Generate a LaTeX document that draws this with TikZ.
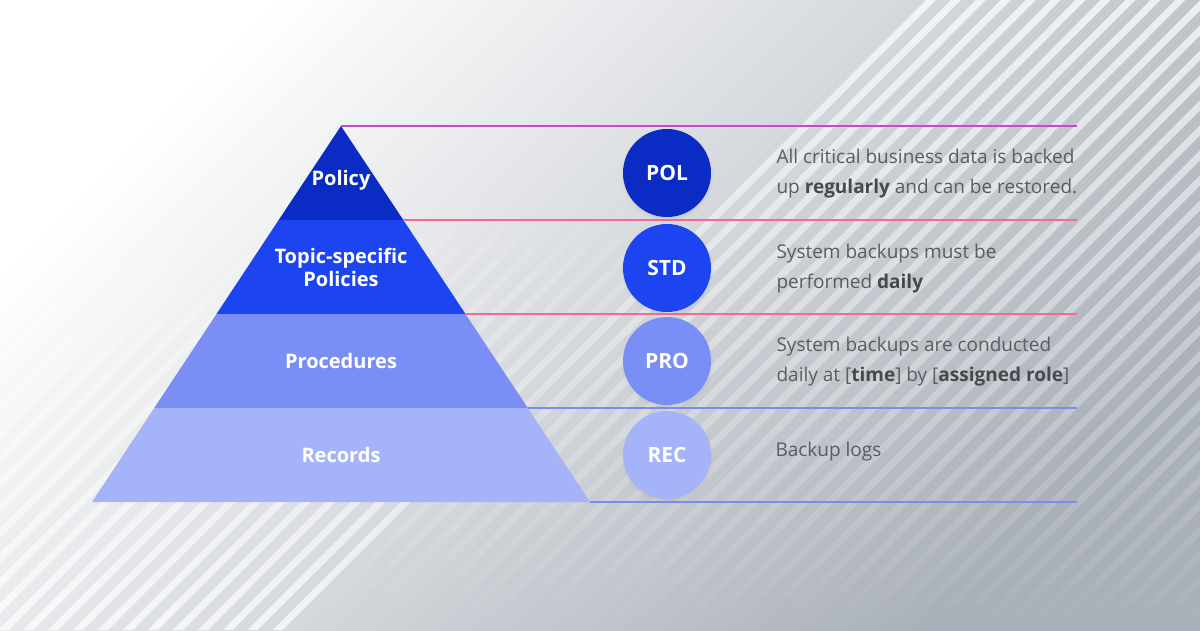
\documentclass[tikz,border=0pt]{standalone}
\usepackage{fontspec}
\setmainfont{Open Sans}
\usetikzlibrary{fadings,shadows}
\definecolor{cA}{HTML}{0A2BC4}
\definecolor{cB}{HTML}{1C44F0}
\definecolor{cC}{HTML}{7A8FF5}
\definecolor{cD}{HTML}{A5B3F8}
\definecolor{txt}{HTML}{5A5C60}
\definecolor{txtb}{HTML}{46484C}
\definecolor{lnA}{HTML}{C548D6}
\definecolor{lnB}{HTML}{EE6E93}
\definecolor{lnC}{HTML}{7B8DE8}
\definecolor{bgMid}{HTML}{EAEBEE}
\definecolor{bgEnd}{HTML}{AAB0B9}
\tikzfading[name=fadeA, top color=transparent!100, bottom color=transparent!0]
\tikzfading[name=fadeB, top color=transparent!0, bottom color=transparent!100]
\begin{document}
\begin{tikzpicture}[x=1pt,y=-1pt,
  lvl/.style={text=white, font=\fontsize{20}{23}\selectfont\bfseries, align=center},
  badge/.style={circle, minimum size=88pt, inner sep=0pt, text=white,
    font=\fontsize{21}{24}\selectfont\bfseries,
    circular drop shadow={shadow xshift=0pt, shadow yshift=-2pt, opacity=0.18, shadow scale=1.06}},
  desc/.style={anchor=west, align=left, text=txt, font=\fontsize{19}{30}\selectfont},
  sep/.style={line width=1.4pt}]
\useasboundingbox (0,0) rectangle (1200,630);
% background
\shade[left color=white, middle color=bgMid, right color=bgEnd, shading angle=45] (0,0) rectangle (1200,630);
% stripes, lower left group
\begin{scope}
\clip (0,0) -- (918,0) -- (288,630) -- (0,630) -- cycle;
\fill[white, opacity=0.8, path fading=fadeA]
  \foreach \s in {5,30,...,905} { (\s-180,180) -- (\s-680,680) -- (\s-670,680) -- (\s-170,180) -- cycle };
\end{scope}
% stripes, upper right group
\begin{scope}
\clip (918,0) -- (1200,0) -- (1200,630) -- (288,630) -- cycle;
\fill[white, opacity=1, path fading=fadeB]
  \foreach \s in {930,955,...,1880} { (\s+250,-250) -- (\s-630,630) -- (\s-620,630) -- (\s+260,-250) -- cycle };
\end{scope}
% pyramid coordinates
\coordinate (apex) at (341,126);
\coordinate (l1L) at (278.7,220); \coordinate (l1R) at (403.3,220);
\coordinate (l2L) at (216.5,314); \coordinate (l2R) at (465.5,314);
\coordinate (l3L) at (154.2,408); \coordinate (l3R) at (527.8,408);
\coordinate (l4L) at (92,502);    \coordinate (l4R) at (590,502);
\coordinate (e0) at (1077,126);
\coordinate (e1) at (1077,220);
\coordinate (e2) at (1077,314);
\coordinate (e3) at (1077,408);
\coordinate (e4) at (1077,502);
\fill[cA] (apex) -- (l1R) -- (l1L) -- cycle;
\fill[cB] (l1L) -- (l1R) -- (l2R) -- (l2L) -- cycle;
\fill[cC] (l2L) -- (l2R) -- (l3R) -- (l3L) -- cycle;
\fill[cD] (l3L) -- (l3R) -- (l4R) -- (l4L) -- cycle;
% separator lines
\draw[sep, lnA] (apex) -- (e0);
\draw[sep, lnB] (l1R) -- (e1);
\draw[sep, lnB] (l2R) -- (e2);
\draw[sep, lnC] (l3R) -- (e3);
\draw[sep, lnC, line width=2pt] (l4R) -- (e4);
% pyramid labels
\node[lvl] (tPol) at (341,180) {Policy};
\node[lvl] (tTop) at (341,267) {Topic-specific\\Policies};
\node[lvl] (tPro) at (341,361) {Procedures};
\node[lvl] (tRec) at (341,455) {Records};
% badges
\node[badge, fill=cA] (bPol) at (667,173) {POL};
\node[badge, fill=cB] (bStd) at (667,268) {STD};
\node[badge, fill=cC] (bPro) at (667,361) {PRO};
\node[badge, fill=cD] (bRec) at (667,455) {REC};
% descriptions
\node[desc] (dPol) at (773,174) {All critical business data is backed\\up \textcolor{txtb}{\textbf{regularly}} and can be restored.};
\node[desc] (dStd) at (773,269) {System backups must be\\performed \textcolor{txtb}{\textbf{daily}}};
\node[desc] (dPro) at (773,362) {System backups are conducted\\daily at [\textcolor{txtb}{\textbf{time}}] by [\textcolor{txtb}{\textbf{assigned role}}]};
\node[desc] (dRec) at (772,452) {Backup logs};
\end{tikzpicture}
\end{document}
